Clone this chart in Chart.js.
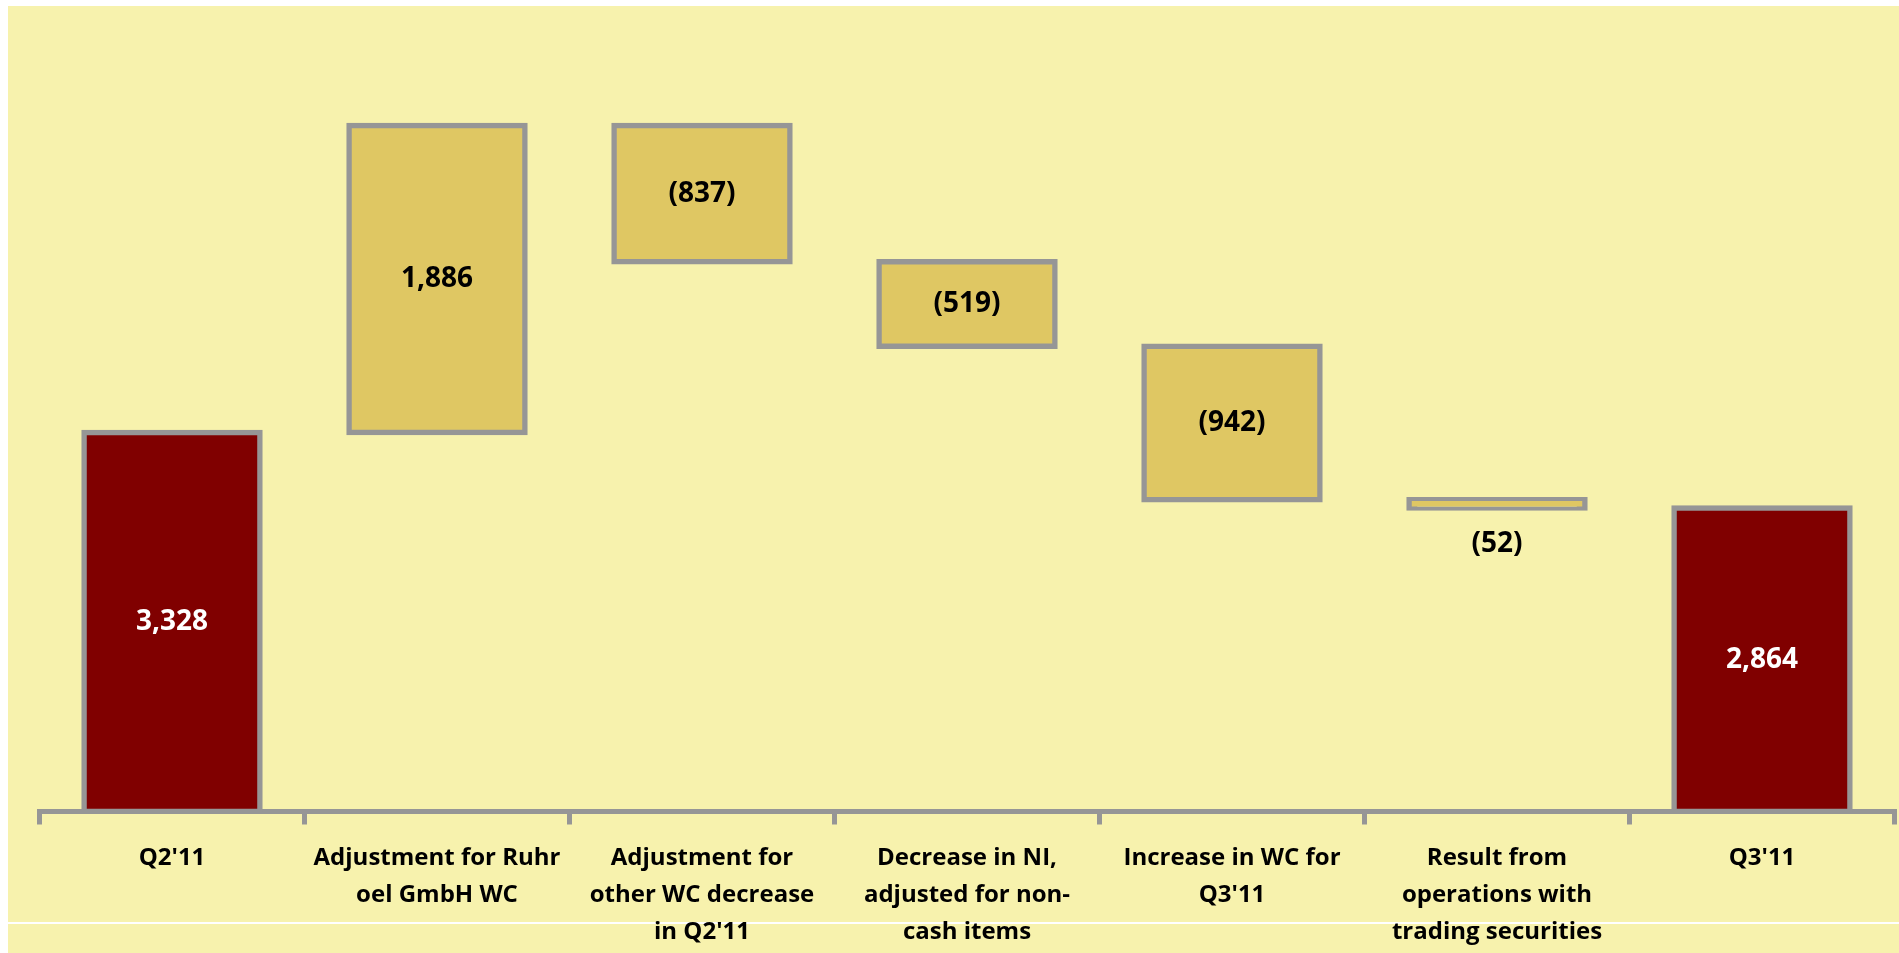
<!DOCTYPE html>
<html>
<head>
<meta charset="utf-8">
<title>Working capital bridge</title>
<script src="https://cdn.jsdelivr.net/npm/chart.js@4.4.1/dist/chart.umd.min.js"></script>
<style>
    html, body { margin: 0; padding: 0; background: #ffffff; overflow: hidden; }
    #panel { position: absolute; left: 8px; top: 6px; right: 0; bottom: 0; background: #f7f2ad; }
    #rule { position: absolute; left: 8px; right: 0; top: 922px; height: 2px; background: #ffffff; }
    #wrap { position: absolute; left: 0; top: 0; width: 1899px; height: 953px; }
</style>
</head>
<body>
<div id="panel"></div>
<div id="rule"></div>
<div id="wrap"><canvas id="bridge" width="1899" height="953"></canvas></div>
<script>
/** Waterfall of working capital from Q2'11 to Q3'11. */

const categories = [
    "Q2'11",
    ["Adjustment for Ruhr", "oel GmbH WC"],
    ["Adjustment for", "other WC decrease", "in Q2'11"],
    ["Decrease in NI,", "adjusted for non-", "cash items"],
    ["Increase in WC for", "Q3'11"],
    ["Result from", "operations with", "trading securities"],
    "Q3'11"
];
const changes = [3328, 1886, -837, -519, -942, -52, 2864];
const isTotal = [true, false, false, false, false, false, true];

const Y_MIN = 1000;
const Y_MAX = 5800;

const TOTAL_COLOR = '#800000';
const STEP_COLOR = '#dfc763';
const EDGE_COLOR = '#969696';

/**
 * Turns the changes into floating [start, end] ranges.
 * @param {Array<number>} values - Totals and changes.
 * @param {Array<boolean>} totals - Which entries are totals.
 * @returns ranges for a floating bar dataset.
 */
function buildRanges(values, totals) {
    let running = 0;
    return values.map((v, i) => {
        if (totals[i]) {
            running = v;
            return [Y_MIN, v];
        }
        const start = running;
        running += v;
        return [start, running];
    });
}

/**
 * Formats a value the way the report does: thousands separator, negatives in brackets.
 * @param {number} v - Value.
 * @returns label text
 */
function formatValue(v) {
    const text = Math.abs(v).toLocaleString('en-US');
    return v < 0 ? '(' + text + ')' : text;
}

// Writes each value inside its bar, or just below it when the bar is too thin.
const valueLabels = {
    id: 'valueLabels',
    afterDatasetsDraw(chart) {
        const ctx = chart.ctx;
        const meta = chart.getDatasetMeta(0);
        ctx.save();
        ctx.font = 'bold 28px "Open Sans"';
        ctx.textAlign = 'center';
        ctx.textBaseline = 'middle';
        meta.data.forEach((bar, i) => {
            const top = Math.min(bar.y, bar.base);
            const bottom = Math.max(bar.y, bar.base);
            let y = (top + bottom) / 2;
            if (bottom - top < 30) {
                y = bottom + 36;
            }
            ctx.fillStyle = isTotal[i] ? '#ffffff' : '#000000';
            ctx.fillText(formatValue(changes[i]), bar.x, y);
        });
        ctx.restore();
    }
};

function main() {
    const context = document.getElementById('bridge');
    const config = {
        type: 'bar',
        data: {
            labels: categories,
            datasets: [{
                data: buildRanges(changes, isTotal),
                backgroundColor: isTotal.map(t => t ? TOTAL_COLOR : STEP_COLOR),
                borderColor: EDGE_COLOR,
                borderWidth: 5.5,
                borderSkipped: false,
                inflateAmount: 2.75,
                barPercentage: 0.664,
                categoryPercentage: 1
            }]
        },
        options: {
            responsive: false,
            animation: false,
            devicePixelRatio: 1,
            layout: {
                padding: { left: 39.5, right: 4.5, top: 30.2, bottom: 0 }
            },
            plugins: {
                legend: { display: false },
                tooltip: { enabled: false }
            },
            scales: {
                x: {
                    offset: true,
                    grid: {
                        offset: true,
                        drawOnChartArea: false,
                        drawTicks: true,
                        tickLength: 13,
                        color: EDGE_COLOR,
                        lineWidth: 5
                    },
                    border: { display: true, color: EDGE_COLOR, width: 5 },
                    ticks: {
                        color: '#000000',
                        font: { family: 'Open Sans', weight: 'bold', size: 24, lineHeight: 1.54 },
                        padding: 15,
                        maxRotation: 0,
                        autoSkip: false
                    },
                    afterFit(scale) {
                        scale.height = 141.5;
                    }
                },
                y: {
                    display: false,
                    min: Y_MIN,
                    max: Y_MAX
                }
            }
        },
        plugins: [valueLabels]
    };
    return new Chart(context, config);
}

window.onload = main;
</script>
</body>
</html>
